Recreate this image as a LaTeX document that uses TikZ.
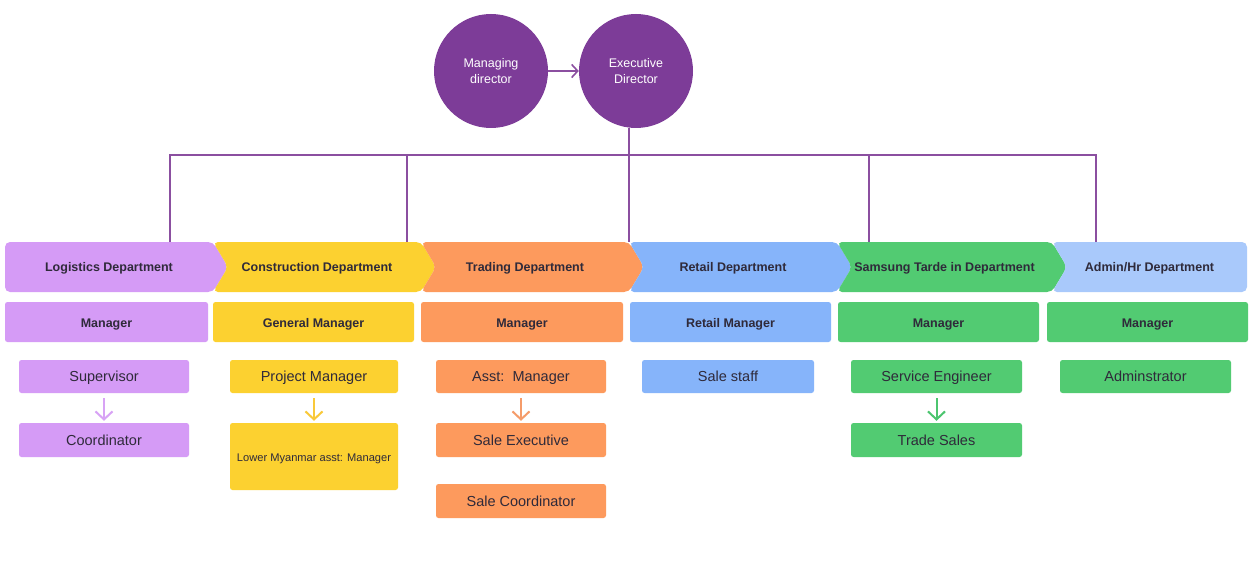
\documentclass[tikz,border=0pt]{standalone}
\usepackage{fontspec}
\setmainfont{Liberation Sans}
\usetikzlibrary{arrows.meta}
\definecolor{circ}{HTML}{7D3C98}
\definecolor{treeline}{HTML}{8B4FA0}
\definecolor{clog}{HTML}{D59BF6}
\definecolor{ccon}{HTML}{FCD130}
\definecolor{ctra}{HTML}{FD9A5D}
\definecolor{cret}{HTML}{86B4FA}
\definecolor{csam}{HTML}{52CB72}
\definecolor{cadm}{HTML}{A9C9FB}
\definecolor{alog}{HTML}{D8A3F5}
\definecolor{acon}{HTML}{F9C93A}
\definecolor{atra}{HTML}{F59C6A}
\definecolor{asam}{HTML}{4CC56F}
\definecolor{txt}{HTML}{2F2A3A}
\tikzset{
  x=1pt, y=-1pt,
  person/.style={circle, fill=circ, minimum size=114pt, inner sep=0pt, text=white, align=center, font=\fontsize{12.5}{16}\selectfont},
  capc/.style={text height=0.72em, text depth=0pt},
  deptlabel/.style={inner sep=0pt, capc, yshift=-1pt, text=txt, font=\fontsize{12.5}{14}\selectfont\bfseries},
  chevfill/.style={rounded corners=5pt},
  mgrbox/.style={rounded corners=2.5pt, inner sep=0pt, capc, yshift=-1.5pt, text=txt, font=\fontsize{12.5}{14}\selectfont\bfseries},
  rolebox/.style={rounded corners=2.5pt, inner sep=0pt, capc, yshift=-1.5pt, text=txt, font=\fontsize{14.5}{16}\selectfont},
  tree/.style={draw=treeline, line width=1.4pt},
  toparrow/.style={draw=treeline, line width=1.6pt, -{Straight Barb[length=6pt,width=13pt]}},
  subarrow/.style={line width=2pt, -{Straight Barb[length=8pt,width=17pt]}},
}
% \chev{x1}{x2}{left notch 1/0}{right point 1/0}{colour}{name}{text}
\newcommand{\chev}[7]{%
  \fill[#5, chevfill] (#1,242) -- (#2,242)
    \ifnum#4=1 -- (#2+15,267) \fi -- (#2,292) -- (#1,292)
    \ifnum#3=1 -- (#1+15,267) \fi -- cycle;
  \node[deptlabel] (#6) at ({(#1+#2)/2},267) {#7};
  \coordinate (#6-tl) at (#1,242);
}
% \rbox{style}{x1}{y1}{x2}{y2}{colour}{name}{text}
\newcommand{\rbox}[8]{%
  \fill[#6, rounded corners=2.5pt] (#2,#3) rectangle (#4,#5);
  \node[#1, minimum width={#4-#2}, minimum height={#5-#3}] (#7) at ({(#2+#4)/2},{(#3+#5)/2}) {#8};
}
\begin{document}
\begin{tikzpicture}
\useasboundingbox (0,0) rectangle (1256,575);
\fill[white] (0,0) rectangle (1256,575);

% top people
\node[person] (md) at (491,71) {Managing\\director};
\node[person] (ed) at (636,71) {Executive\\Director};
\draw[toparrow] (md) -- (ed);

% departments
\chev{5}{213}{0}{1}{clog}{lg}{Logistics Department}
\chev{213}{421}{1}{1}{ccon}{cn}{Construction Department}
\chev{421}{629}{1}{1}{ctra}{tr}{Trading Department}
\chev{629}{837}{1}{1}{cret}{rt}{Retail Department}
\chev{837}{1052}{1}{1}{csam}{sm}{Samsung Tarde in Department}
\chev{1052}{1247}{1}{0}{cadm}{ad}{Admin/Hr Department}

% tree connectors
\coordinate (b1) at (170,155);
\coordinate (b2) at (407,155);
\coordinate (b4) at (869,155);
\coordinate (b5) at (1096,155);
\draw[tree] (ed.south -| rt-tl) -- (rt-tl);
\draw[tree] (b1 |- lg-tl) -- (b1) -- (b5) -- (b5 |- ad-tl);
\draw[tree] (b2) -- (b2 |- cn-tl);
\draw[tree] (b4) -- (b4 |- sm-tl);

% manager row
\rbox{mgrbox}{5}{302}{208}{342}{clog}{lgm}{Manager}
\rbox{mgrbox}{213}{302}{414}{342}{ccon}{cnm}{General Manager}
\rbox{mgrbox}{421}{302}{623}{342}{ctra}{trm}{Manager}
\rbox{mgrbox}{630}{302}{831}{342}{cret}{rtm}{Retail Manager}
\rbox{mgrbox}{838}{302}{1039}{342}{csam}{smm}{Manager}
\rbox{mgrbox}{1047}{302}{1248}{342}{csam}{adm}{Manager}

% roles
\rbox{rolebox}{19}{360}{189}{393}{clog}{sup}{Supervisor}
\rbox{rolebox}{19}{423}{189}{457}{clog}{coo}{Coordinator}
\rbox{rolebox}{230}{360}{398}{393}{ccon}{pm}{Project Manager}
\fill[ccon, rounded corners=2.5pt] (230,423) rectangle (398,490);
\node[rolebox, minimum width=168, minimum height=67, font=\fontsize{11.1}{13}\selectfont] (lm) at (314,456.5) {Lower Myanmar asst: Manager};
\rbox{rolebox}{436}{360}{606}{393}{ctra}{am}{Asst:\ \ Manager}
\rbox{rolebox}{436}{423}{606}{457}{ctra}{se}{Sale Executive}
\rbox{rolebox}{436}{484}{606}{518}{ctra}{sc}{Sale Coordinator}
\rbox{rolebox}{642}{360}{814}{393}{cret}{ss}{Sale staff}
\rbox{rolebox}{851}{360}{1022}{393}{csam}{sen}{Service Engineer}
\rbox{rolebox}{851}{423}{1022}{457}{csam}{ts}{Trade Sales}
\rbox{rolebox}{1060}{360}{1231}{393}{csam}{adms}{Adminstrator}

% sub arrows
\draw[subarrow, alog] ([yshift=-3.5]sup.south) -- ([yshift=3.5]coo.north);
\draw[subarrow, acon] ([yshift=-3.5]pm.south) -- ([yshift=3.5]lm.north);
\draw[subarrow, atra] ([yshift=-3.5]am.south) -- ([yshift=3.5]se.north);
\draw[subarrow, asam] ([yshift=-3.5]sen.south) -- ([yshift=3.5]ts.north);
\end{tikzpicture}
\end{document}
